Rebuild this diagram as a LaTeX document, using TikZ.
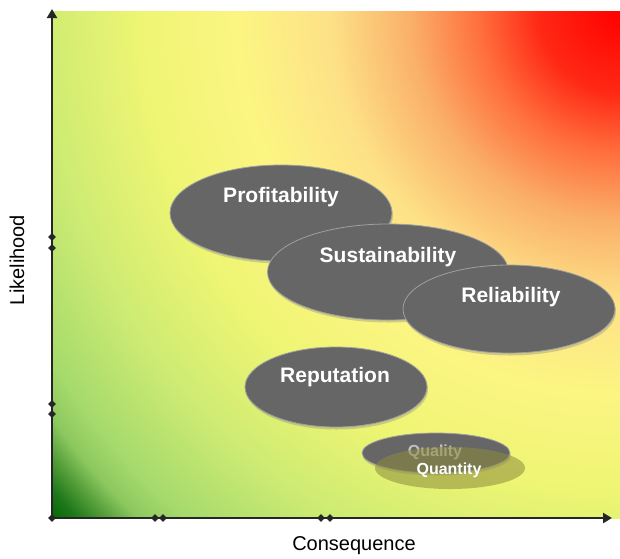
\documentclass[tikz,border=0pt]{standalone}
\usepackage{fontspec}
\setmainfont{Liberation Sans}
\usetikzlibrary{shapes.geometric,arrows.meta,shadows}
\definecolor{blobgray}{RGB}{102,102,102}
\definecolor{blobolive}{RGB}{140,140,60}
\pgfdeclareradialshading{riskfield}{\pgfpoint{0bp}{0bp}}{%
 color(0bp)=(red);
 color(2.6bp)=(rgb,255:red,255;green,40;blue,20);
 color(4.5bp)=(rgb,255:red,255;green,110;blue,60);
 color(6.7bp)=(rgb,255:red,250;green,175;blue,105);
 color(9.3bp)=(rgb,255:red,253;green,225;blue,135);
 color(12.2bp)=(rgb,255:red,252;green,245;blue,130);
 color(15.4bp)=(rgb,255:red,238;green,245;blue,115);
 color(18.6bp)=(rgb,255:red,205;green,235;blue,115);
 color(21.4bp)=(rgb,255:red,165;green,218;blue,108);
 color(22.4bp)=(rgb,255:red,140;green,200;blue,95);
 color(23.1bp)=(rgb,255:red,85;green,158;blue,58);
 color(23.8bp)=(rgb,255:red,30;green,120;blue,25);
 color(24.5bp)=(rgb,255:red,0;green,100;blue,0);
 color(25bp)=(rgb,255:red,0;green,95;blue,0);
 color(50bp)=(rgb,255:red,0;green,95;blue,0)}
\tikzset{
 riskblob/.style={ellipse, fill=blobgray, draw=gray!75, line width=0.8pt,
  drop shadow={opacity=0.35, shadow xshift=1pt, shadow yshift=-2.5pt}},
 blobtext/.style={text=white, font=\fontsize{21}{24}\selectfont\bfseries},
 smalltext/.style={text=white, font=\fontsize{16}{19}\selectfont\bfseries},
 axis/.style={line width=2.6pt, draw=black!85, -{Triangle[length=9pt,width=10pt]}},
 tickmark/.style={diamond, fill=black!85, inner sep=0pt, minimum size=8pt},
 axislabel/.style={font=\fontsize{20}{24}\selectfont}
}
\begin{document}
\begin{tikzpicture}[x=1pt,y=-1pt]
\useasboundingbox (0,0) rectangle (620,558);
\begin{scope}
\clip (52,11) rectangle (620,518);
\shade[shading=riskfield] (620,11) circle (780);
\end{scope}
% axes
\coordinate (origin) at (52,518);
\coordinate (ytip) at (52,9);
\coordinate (xtip) at (612,518);
\draw[axis] (origin) -- (ytip);
\draw[axis] (origin) -- (xtip);
\node[tickmark] (t0) at (52,518){};
\foreach \y [count=\i] in {237,248,404,414}
 \node[tickmark] (ty\i) at (52,\y){};
\foreach \x [count=\i] in {155,163,321,330}
 \node[tickmark] (tx\i) at (\x,518){};
\node[axislabel, rotate=90] (likelihood) at (17,260){Likelihood};
\node[axislabel] (consequence) at (354,546){Consequence};
% risk areas
\node[riskblob, minimum width=222pt, minimum height=96pt] (profit) at (281,213){};
\node[blobtext] (profitlabel) at (281,197){Profitability};
\node[riskblob, minimum width=241pt, minimum height=96pt] (sustain) at (388,272){};
\node[blobtext] (sustainlabel) at (388,257){Sustainability};
\node[riskblob, minimum width=212pt, minimum height=88pt] (reliab) at (509,309){};
\node[blobtext] (reliablabel) at (511,297){Reliability};
\node[riskblob, minimum width=182pt, minimum height=80pt] (reput) at (336,387){};
\node[blobtext] (reputlabel) at (335,377){Reputation};
\node[riskblob, minimum width=148pt, minimum height=40pt] (quality) at (436,453){};
\node[smalltext, text opacity=0.6] (qualitylabel) at (435,452){Quality};
\node[ellipse, fill=blobolive, fill opacity=0.55, minimum width=150pt, minimum height=42pt] (quantity) at (450,468){};
\node[smalltext] (quantitylabel) at (449,470){Quantity};
\end{tikzpicture}
\end{document}
